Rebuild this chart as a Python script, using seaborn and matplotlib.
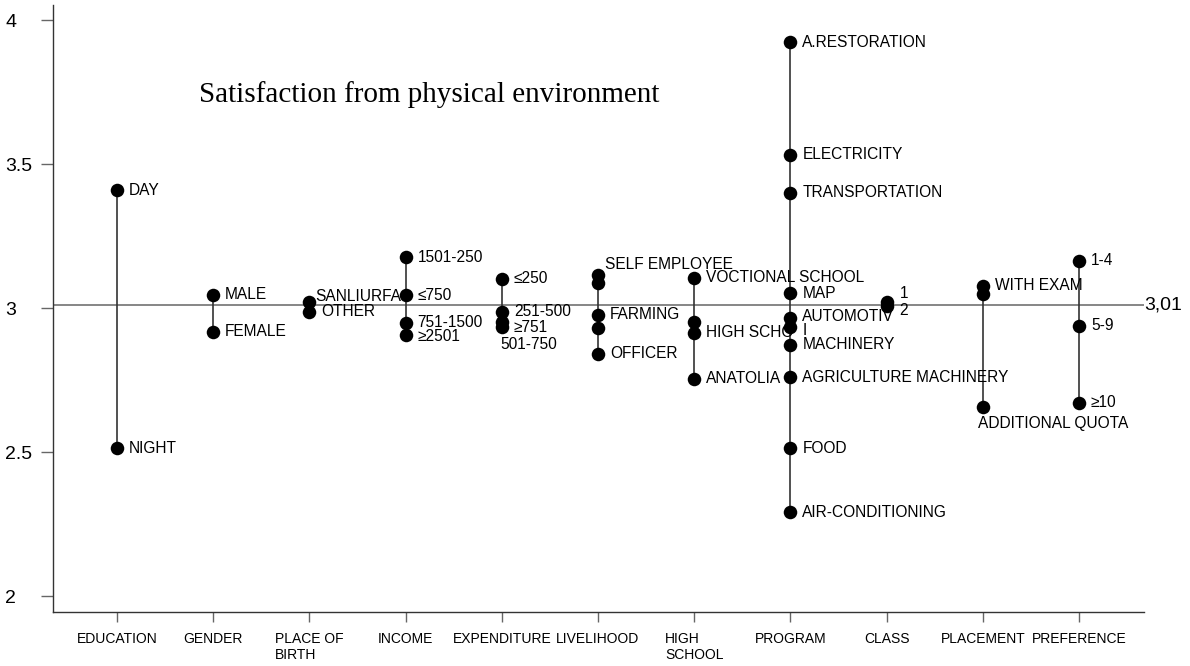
import matplotlib
matplotlib.use('Agg')
import matplotlib.pyplot as plt
import matplotlib.transforms as mtransforms
import seaborn as sns
import pandas as pd

# groups on the x axis
groups = ['EDUCATION', 'GENDER', 'PLACE OF\nBIRTH', 'INCOME', 'EXPENDITURE', 'LIVELIHOOD',
          'HIGH\nSCHOOL', 'PROGRAM', 'CLASS', 'PLACEMENT', 'PREFERENCE']

# mean scores per sub-group
education = [3.41, 2.515]
education_lbl = ['DAY', 'NIGHT']
gender = [3.047, 2.918]
gender_lbl = ['MALE', 'FEMALE']
birth = [3.023, 2.989]
birth_lbl = ['SANLIURFA', 'OTHER']
income = [3.178, 3.046, 2.949, 2.908]
income_lbl = ['1501-250', '≤750', '751-1500', '≥2501']
expenditure = [3.102, 2.989, 2.954, 2.936]
expenditure_lbl = ['≤250', '251-500', '≥751', '501-750']
livelihood = [3.116, 3.087, 2.977, 2.931, 2.843]
livelihood_lbl = ['SELF EMPLOYEE', '', 'FARMING', '', 'OFFICER']
highschool = [3.106, 2.954, 2.915, 2.755]
highschool_lbl = ['VOCTIONAL SCHOOL', '', 'HIGH SCHO', 'ANATOLIA']
program = [3.923, 3.533, 3.402, 3.052, 2.966, 2.936, 2.873, 2.761, 2.515, 2.293]
program_lbl = ['A.RESTORATION', 'ELECTRICITY', 'TRANSPORTATION', 'MAP', 'AUTOMOTIV', 'I',
               'MACHINERY', 'AGRICULTURE MACHINERY', 'FOOD', 'AIR-CONDITIONING']
klass = [3.022, 3.008]
klass_lbl = ['1', '2']
placement = [3.078, 3.050, 2.659]
placement_lbl = ['WITH EXAM', '', 'ADDITIONAL QUOTA']
preference = [3.166, 2.939, 2.673]
preference_lbl = ['1-4', '5-9', '≥10']

overall = 3.01

values = [education, gender, birth, income, expenditure, livelihood, highschool,
          program, klass, placement, preference]
labels = [education_lbl, gender_lbl, birth_lbl, income_lbl, expenditure_lbl, livelihood_lbl,
          highschool_lbl, program_lbl, klass_lbl, placement_lbl, preference_lbl]

rows = []
for i, (vals, lbls) in enumerate(zip(values, labels)):
    for v, l in zip(vals, lbls):
        rows.append({'pos': i, 'group': groups[i], 'score': v, 'label': l})
df = pd.DataFrame(rows)

# label offsets in pixels (dx, dy) where they differ from default
offsets = {
    'SELF EMPLOYEE': (7, 10),
    'SANLIURFA': (6, 5),
    '751-1500': (12, 1),
    '≥2501': (12, -2),
    '≥751': (12, -6),
    '501-750': (-1, -18),
    'AUTOMOTIV': (12, 2),
    'I': (12, -4),
    '1': (13, 9),
    '2': (13, -4),
    'ADDITIONAL QUOTA': (-5, -17),
}

sns.set_style('ticks')
plt.rcParams['font.family'] = ['Liberation Sans', 'DejaVu Sans']
plt.rcParams['text.color'] = 'black'
plt.rcParams['xtick.labelcolor'] = 'black'
plt.rcParams['ytick.labelcolor'] = 'black'

fig = plt.figure(figsize=(11.9, 6.66), dpi=100)
ax = fig.add_axes([52.7 / 1190, 54 / 666, (1144 - 52.7) / 1190, (612 - 5) / 666])

# vertical range lines
rng = df.groupby('pos')['score'].agg(['min', 'max'])
ax.vlines(rng.index, rng['min'], rng['max'], color='#333333', lw=1.2, zorder=2)

ax.axhline(overall, color='#666666', lw=1.1, zorder=1)

sns.scatterplot(data=df, x='pos', y='score', color='black', s=95, edgecolor='black',
                linewidth=0, ax=ax, zorder=3, legend=False)

px = 0.72
for _, r in df.iterrows():
    if not r['label']:
        continue
    dx, dy = offsets.get(r['label'], (12, 0))
    ax.annotate(r['label'], (r['pos'], r['score']), xytext=(dx * px, dy * px),
                textcoords='offset points', ha='left', va='center', fontsize=11.2,
                color='black')

trans = mtransforms.blended_transform_factory(ax.transAxes, ax.transData)
ax.text(1.0, overall, '3,01', transform=trans, ha='left', va='center', fontsize=14)

ax.text(0.85, 3.718, 'Satisfaction from physical environment', family='Liberation Serif',
        fontsize=21, ha='left', va='baseline')

ax.set_xlim(-0.668, 10.676)
ax.set_ylim(1.946, 4.053)
ax.set_xticks(range(len(groups)))
ax.set_xticklabels(groups, fontsize=10, multialignment='left')
ax.set_yticks([2, 2.5, 3, 3.5, 4])
ax.set_yticklabels(['2', '2.5', '3', '3.5', '4'], fontsize=14, ha='left')
ax.tick_params(axis='y', length=8.6, width=1, color='#666666', pad=25.7)
ax.tick_params(axis='x', length=7.2, width=1, color='#666666', pad=7)
ax.set_xlabel('')
ax.set_ylabel('')
sns.despine(ax=ax)
for s in ['left', 'bottom']:
    ax.spines[s].set_color('#333333')
    ax.spines[s].set_linewidth(1)

fig.savefig('out.png', dpi=100)
